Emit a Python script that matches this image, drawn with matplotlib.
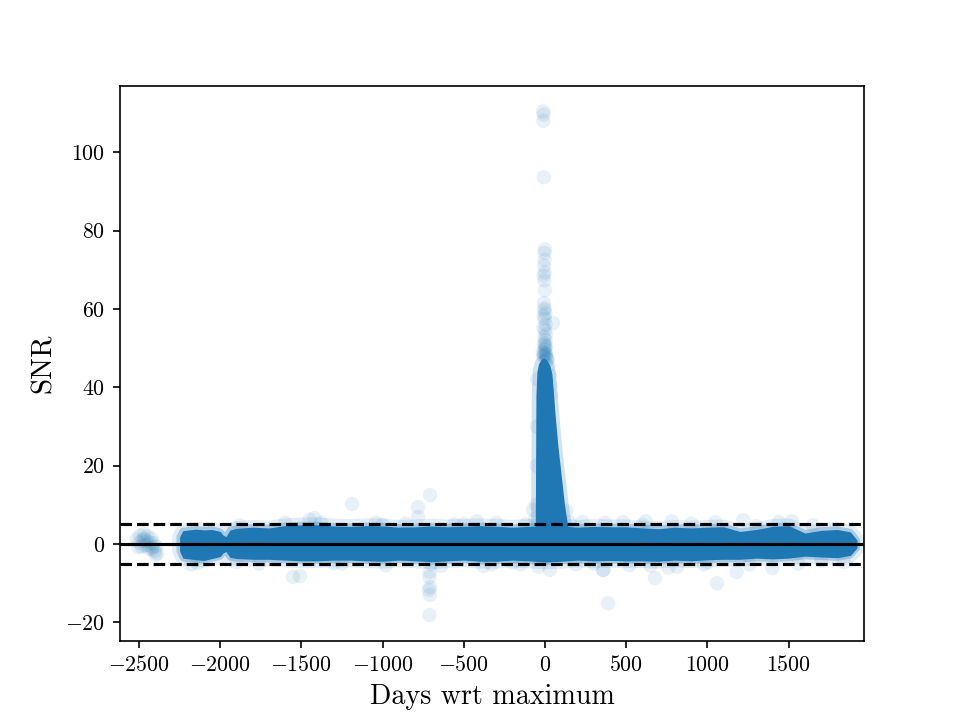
import matplotlib
matplotlib.use("Agg")
import matplotlib.pyplot as plt

# ---------------- data ----------------
# dense main band envelope (days, upper SNR, lower SNR)
band_days = [-2250, -2230, -2150, -2100, -2050, -2000, -1983, -1965, -1940, -1900, -1800,
             -1700, -1600, -1500, -1400, -1300, -1200, -1100, -1000, -900, -800, -700,
             -600, -500, -400, -300, -200, -100, 0, 100, 200, 300, 400, 500, 600, 700,
             800, 900, 1000, 1100, 1200, 1300, 1400, 1500, 1600, 1700, 1800, 1880, 1921]
band_hi = [1.8, 3.4, 3.8, 3.6, 3.7, 3.2, 2.3, 1.9, 3.6, 4.0, 4.3,
           4.1, 4.7, 4.9, 4.9, 4.6, 4.5, 4.7, 4.6, 4.3, 4.4, 4.6,
           4.4, 4.5, 4.7, 4.5, 4.3, 4.5, 4.7, 4.6, 4.3, 4.5, 4.4, 4.4, 4.1, 3.9,
           4.3, 4.1, 4.3, 4.4, 3.2, 3.7, 4.5, 4.7, 2.8, 3.5, 3.7, 3.1, 1.0]
band_lo = [-1.8, -3.6, -4.0, -4.2, -3.7, -3.2, -2.3, -1.9, -3.4, -3.7, -3.9,
           -3.9, -4.1, -4.3, -4.3, -4.1, -4.1, -4.3, -4.4, -4.1, -4.3, -4.5,
           -4.3, -4.1, -4.4, -4.4, -4.1, -4.3, -4.6, -4.4, -4.1, -4.3, -4.2, -4.3, -4.3, -4.4,
           -4.1, -4.3, -4.0, -3.9, -3.9, -3.6, -3.8, -3.6, -3.1, -3.3, -3.5, -2.9, -1.0]

# dense part of the peak around maximum light (days, upper SNR)
peak_days = [-60, -56, -50, -40, -25, -10, 10, 30, 42, 50, 62, 80, 103, 120, 142]
peak_hi = [4.0, 38.0, 44.0, 46.0, 47.0, 47.5, 47.0, 45.5, 43.5, 39.5, 33.0, 24.7, 16.3, 10.0, 4.0]

# individual (sparse) points: isolated early cluster, band halo, outliers, peak column
early_days = [-2515, -2500, -2492, -2485, -2478, -2470, -2462, -2455, -2448, -2440, -2432,
              -2425, -2418, -2410, -2402, -2395, -2388, -2505, -2468, -2445, -2420, -2398]
early_snr = [1.2, 0.4, 2.2, -0.6, 1.0, 2.6, -0.4, 0.8, 2.0, -1.2, 0.4,
             1.4, -0.8, 0.2, -1.8, -0.6, -2.4, -0.8, 1.4, -0.2, -1.4, -2.8]

halo_days = [-2180, -2140, -1880, -1760, -1450, -1420, -1380, -1250, -1040, -980, -860, -640,
             -560, -420, -380, -330, -300, -150, -120, 30, -40, 190, 230, 360, 370, 480, 520,
             620, 650, 760, 780, 900, 980, 1050, 1180, 1220, 1260, 1400, 1440, 1520, 1560,
             1650, 1840, -1900, -1600, -1300, -1000, -700, -500, -200, 300, 600, 1000, 1300, 1700]
halo_snr = [-5.2, -4.8, 4.8, -5.0, 6.2, 6.6, 5.4, -5.0, 5.4, -5.4, 5.2, -5.6,
            5.0, 5.8, -5.6, -5.2, 5.4, -5.2, 5.0, -6.6, -5.8, -5.2, 5.6, -6.6, 5.4, 5.6, -5.4,
            5.8, -5.5, -6.0, 5.8, 5.2, -5.2, 5.6, -7.1, 6.1, -5.2, -6.1, 5.6, 5.8, -5.0,
            4.8, -4.6, -4.6, 5.4, -4.9, 4.9, -5.1, 5.1, -4.8, -5.0, 4.9, -4.7, 4.6, -4.3]

outlier_days = [-1188, -782, -708, -782, -710, -712, -708, -714, -710, -712, -1552, -1509,
                388, 677, 1059, 357, 813, -74]
outlier_snr = [10.2, 9.4, 12.5, 6.9, -7.1, -8.4, -11.0, -11.7, -13.0, -18.1, -8.4, -8.2,
               -15.1, -8.7, -10.0, -6.6, -5.8, 8.7]

peak_pt_days = [-12, -8, -10, -8, 0, -4, -2, -6, -2, -8, -4, 0, -6, -2, -4, 2, -8, 49, -2, 4,
                -10, 0, 6, -4, 2, -6, 8, 0, -2, 4, -8, 10, 18, 22, 28, 32, 36, -48, -50, -52,
                -55, -60, 150, 130, -14, -6, 2, 6, -10, -2, 4, 12]
peak_pt_snr = [110.4, 109.6, 108.0, 93.6, 75.2, 74.3, 72.5, 71.0, 69.3, 68.5, 67.3, 64.8, 61.5,
               60.2, 59.7, 58.8, 58.2, 56.4, 57.5, 56.0, 55.2, 54.6, 53.5, 52.8, 52.0, 51.2,
               50.6, 50.3, 49.5, 48.7, 48.2, 47.5, 47.2, 45.5, 43.0, 40.5, 38.0, 42.0, 30.0,
               20.0, 10.0, 6.5, 5.5, 8.5, 49.0, 48.6, 49.8, 48.4, 47.8, 51.0, 47.9, 47.0]

x_ticks = [-2500, -2000, -1500, -1000, -500, 0, 500, 1000, 1500]
y_ticks = [-20, 0, 20, 40, 60, 80, 100]
detection_limit = 5

# ---------------- style ----------------
plt.rcParams['font.family'] = ['cmr10', 'DejaVu Serif']
plt.rcParams['mathtext.fontset'] = 'cm'
plt.rcParams['axes.formatter.use_mathtext'] = True
plt.rcParams['axes.unicode_minus'] = True

blue = '#1f77b4'
fig, ax = plt.subplots(figsize=(6.4, 4.8), dpi=150)

# soft fringe + solid core of the saturated band
ax.fill_between(band_days, band_lo, band_hi, facecolor='none',
                edgecolor=(0.12, 0.467, 0.706, 0.13), linewidth=7)
ax.fill_between(band_days, band_lo, band_hi, facecolor='none',
                edgecolor=(0.12, 0.467, 0.706, 0.3), linewidth=3)
ax.fill_between(peak_days, 0, peak_hi, facecolor='none',
                edgecolor=(0.12, 0.467, 0.706, 0.2), linewidth=4)
ax.fill_between(band_days, band_lo, band_hi, color=blue, linewidth=0)
ax.fill_between(peak_days, 0, peak_hi, color=blue, linewidth=0)

for xs, ys in [(early_days, early_snr), (halo_days, halo_snr),
               (outlier_days, outlier_snr), (peak_pt_days, peak_pt_snr)]:
    ax.scatter(xs, ys, s=48, color=blue, alpha=0.1, edgecolors='none')

ax.axhline(0, color='k', lw=1.5)
ax.axhline(detection_limit, color='k', lw=1.5, ls='--')
ax.axhline(-detection_limit, color='k', lw=1.5, ls='--')

ax.set_xlim(-2617, 1964)
ax.set_ylim(-24.7, 116.8)
ax.set_xticks(x_ticks)
ax.set_yticks(y_ticks)
ax.tick_params(labelsize=10.5)
ax.set_xlabel('Days wrt maximum', fontsize=13.5)
ax.set_ylabel('SNR', fontsize=14)

fig.savefig('out.png', dpi=150)
